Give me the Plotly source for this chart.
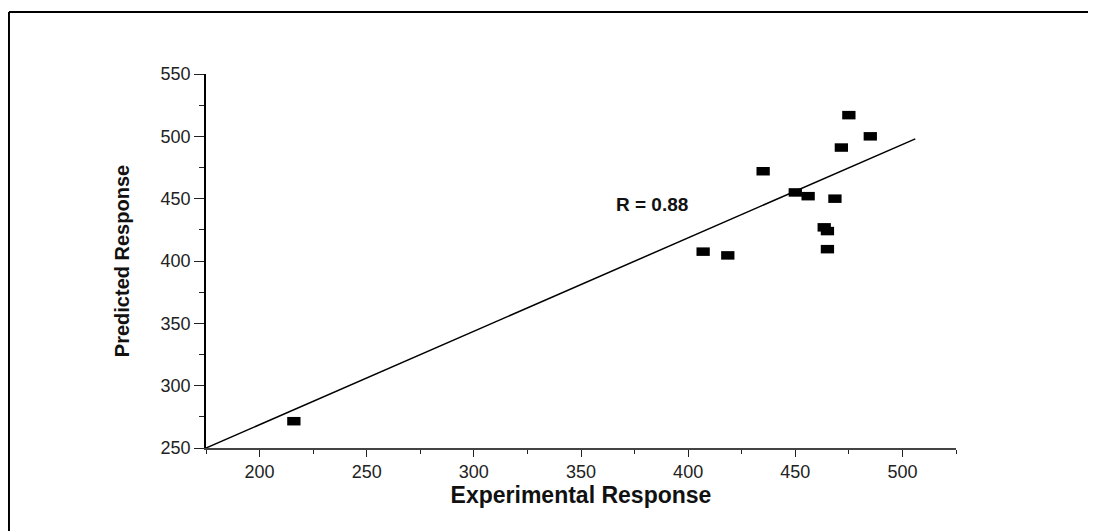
import plotly.graph_objects as go

# Data
experimental = [216, 407, 418.5, 435, 450, 456, 463.5, 465, 465, 468.5, 471.5, 475, 485]
predicted = [271.5, 407.5, 404.5, 472, 455, 452, 427, 424, 409.5, 450, 491, 517, 500]
fit_x = [175, 506]
fit_y = [250, 498]
r_label = "R = 0.88"

FONT = "Liberation Sans, Arial, sans-serif"

fig = go.Figure()
fig.add_trace(go.Scatter(
    x=fit_x, y=fit_y, mode="lines",
    line=dict(color="black", width=1.5), showlegend=False, hoverinfo="skip"))
fig.add_trace(go.Scatter(
    x=experimental, y=predicted, mode="markers",
    marker=dict(symbol="line-ew", size=9.5, color="black",
                line=dict(color="black", width=8.5)),
    showlegend=False))

fig.add_annotation(x=383, y=445.5, xref="x", yref="y", text="<b>" + r_label + "</b>",
                   showarrow=False, font=dict(family=FONT, size=19, color="#111"))

# outer frame (top and left edges of a border box)
fig.add_shape(type="line", xref="paper", yref="paper",
              x0=-0.2627, x1=1.3, y0=1.1658, y1=1.1658, line=dict(color="black", width=2))
fig.add_shape(type="line", xref="paper", yref="paper",
              x0=-0.2627, x1=-0.2627, y0=1.1658, y1=-0.3, line=dict(color="black", width=2))

fig.update_layout(
    width=1096, height=531,
    margin=dict(l=198, r=148, t=66, b=91),
    paper_bgcolor="white", plot_bgcolor="white",
    font=dict(family=FONT, color="#222"),
)
fig.update_xaxes(
    range=[175, 525], dtick=50, tick0=0, showgrid=False, zeroline=False,
    showline=True, linecolor="#444", linewidth=1.5,
    ticks="outside", ticklen=7, tickwidth=1.2, tickcolor="#222",
    minor=dict(dtick=25, tick0=0, ticks="outside", ticklen=4, tickwidth=1.2, tickcolor="#222"),
    tickfont=dict(family=FONT, size=18, color="#222"),
    title=dict(text="<b>Experimental Response</b>", font=dict(family=FONT, size=23, color="#111"), standoff=5),
)
fig.update_yaxes(
    range=[250, 550], dtick=50, tick0=0, showgrid=False, zeroline=False,
    showline=True, linecolor="black", linewidth=1.5,
    ticks="outside", ticklen=10, tickwidth=1.2, tickcolor="#222",
    minor=dict(dtick=25, tick0=0, ticks="outside", ticklen=5, tickwidth=1.2, tickcolor="#222"),
    tickfont=dict(family=FONT, size=18, color="#222"),
    title=dict(text="<b>Predicted Response</b>", font=dict(family=FONT, size=20, color="#111"), standoff=26),
)

fig.write_html("out.html")
